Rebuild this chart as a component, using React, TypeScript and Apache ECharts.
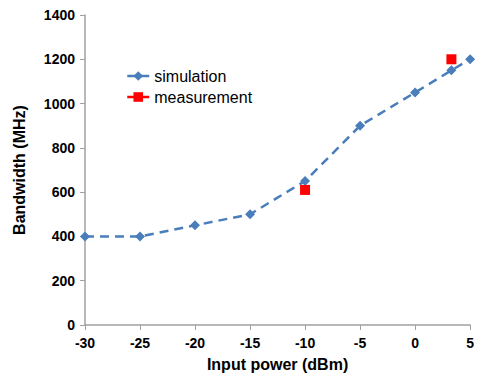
import React, { useEffect, useRef } from "react";
import * as echarts from "echarts";

const simX = [-30, -25, -20, -15, -10, -5, 0, 3.3, 5];
const simY = [400, 400, 450, 500, 650, 900, 1050, 1150, 1200];
const measX = [-10, 3.3];
const measY = [610, 1200];

const FONT = "Liberation Sans, Arial, sans-serif";

export default function App() {
  const ref = useRef<HTMLDivElement>(null);
  useEffect(() => {
    const chart = echarts.init(ref.current!, null, { renderer: "svg" });
    chart.setOption({
      animation: false,
      grid: { left: 85, right: 3, top: 15, bottom: 53 },
      legend: {
        orient: "vertical",
        left: 126,
        top: 68,
        padding: 0,
        itemWidth: 22,
        itemHeight: 12,
        itemGap: 5,
        textStyle: { fontFamily: FONT, fontSize: 16, color: "#000" },
        data: [
          { name: "simulation", lineStyle: { type: "solid", width: 2.5, color: "#4a7ebb", opacity: 1 } },
          { name: "measurement", lineStyle: { type: "solid", width: 2.5, color: "#ff0000", opacity: 1 } },
        ],
      },
      xAxis: {
        type: "value",
        min: -30,
        max: 5,
        interval: 5,
        name: "Input power (dBm)",
        nameLocation: "middle",
        nameGap: 31,
        nameTextStyle: { fontFamily: FONT, fontSize: 16, fontWeight: "bold", color: "#000" },
        axisLine: { onZero: false, lineStyle: { color: "#a0a0a0", width: 1.5 } },
        axisTick: { show: true, length: 5, lineStyle: { color: "#a0a0a0" } },
        axisLabel: { fontFamily: FONT, fontSize: 14, fontWeight: "bold", color: "#000", margin: 11 },
        splitLine: { show: false },
      },
      yAxis: {
        type: "value",
        min: 0,
        max: 1400,
        interval: 200,
        name: "Bandwidth (MHz)",
        nameLocation: "middle",
        nameGap: 58,
        nameRotate: 90,
        nameTextStyle: { fontFamily: FONT, fontSize: 16, fontWeight: "bold", color: "#000" },
        axisLine: { show: true, onZero: false, lineStyle: { color: "#a0a0a0", width: 1.5 } },
        axisTick: { show: true, length: 5, lineStyle: { color: "#a0a0a0" } },
        axisLabel: {
          fontFamily: FONT,
          fontSize: 14,
          fontWeight: "bold",
          color: "#000",
          margin: 10,
          formatter: (v: number) => String(v),
        },
        splitLine: { show: false },
      },
      series: [
        {
          name: "simulation",
          type: "line",
          data: simX.map((x, i) => [x, simY[i]]),
          symbol: "diamond",
          symbolSize: 10,
          itemStyle: { color: "#4a7ebb" },
          lineStyle: { color: "#4a7ebb", width: 2.5, type: [9, 6] },
          z: 2,
        },
        {
          name: "measurement",
          type: "line",
          data: measX.map((x, i) => [x, measY[i]]),
          symbol: "rect",
          symbolSize: 10,
          itemStyle: { color: "#ff0000" },
          lineStyle: { width: 0, opacity: 0, color: "#ff0000" },
          z: 3,
        },
      ],
    });
    return () => chart.dispose();
  }, []);
  return <div ref={ref} style={{ position: "absolute", left: 0, top: 0, width: 477, height: 378 }} />;
}
